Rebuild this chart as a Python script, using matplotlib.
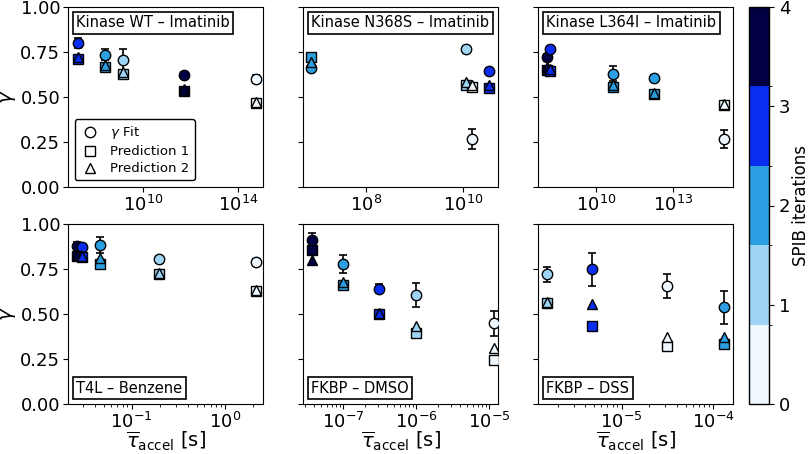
import matplotlib
matplotlib.use("Agg")
import matplotlib.pyplot as plt
from matplotlib.colors import ListedColormap, BoundaryNorm
from matplotlib.lines import Line2D
from matplotlib.offsetbox import AnchoredText
import matplotlib.ticker as mticker
import numpy as np

# colours for SPIB iterations 0..4
spib_colors = ['#eef8fe', '#9ed5f5', '#2b9fe1', '#0a2def', '#000042']

titles = ['Kinase WT – Imatinib', 'Kinase N368S – Imatinib', 'Kinase L364I – Imatinib',
          'T4L – Benzene', 'FKBP – DMSO', 'FKBP – DSS']

# Kinase WT
wt_tau = [10**7.26, 10**8.4, 10**9.15, 10**11.74, 10**14.74]
wt_fit = [0.80, 0.735, 0.705, 0.625, 0.60]
wt_err = [0.03, 0.03, 0.06, 0.015, 0.02]
wt_p1 = [0.71, 0.665, 0.63, 0.535, 0.465]
wt_p2 = [0.725, 0.675, 0.64, 0.545, 0.47]
wt_it = [3, 2, 1, 4, 0]

# Kinase N368S
n368_tau = [10**6.88, 10**10.05, 10**10.17, 10**10.53]
n368_fit = [0.66, 0.765, 0.265, 0.645]
n368_err = [0.01, 0.02, 0.055, 0.015]
n368_p1 = [0.72, 0.565, 0.555, 0.55]
n368_p2 = [0.695, 0.585, 0.565, 0.565]
n368_it = [2, 1, 0, 3]

# Kinase L364I
l364_tau = [10**8.09, 10**8.22, 10**10.67, 10**12.26, 10**14.98]
l364_fit = [0.72, 0.765, 0.63, 0.605, 0.265]
l364_err = [0.02, 0.02, 0.04, 0.015, 0.05]
l364_p1 = [0.65, 0.645, 0.555, 0.515, 0.455]
l364_p2 = [0.665, 0.655, 0.565, 0.525, 0.46]
l364_it = [4, 3, 2, 2, 0]

# T4L benzene
t4l_tau = [10**-1.59, 10**-1.536, 10**-1.34, 10**-0.704, 10**0.33]
t4l_fit = [0.88, 0.87, 0.883, 0.804, 0.79]
t4l_err = [0.02, 0.02, 0.045, 0.02, 0.015]
t4l_p1 = [0.82, 0.815, 0.78, 0.72, 0.628]
t4l_p2 = [0.83, 0.82, 0.81, 0.73, 0.635]
t4l_it = [4, 3, 2, 1, 0]

# FKBP DMSO
dmso_tau = [10**-7.42, 10**-7.0, 10**-6.51, 10**-6.0, 10**-4.93]
dmso_fit = [0.91, 0.78, 0.64, 0.605, 0.448]
dmso_err = [0.04, 0.05, 0.025, 0.065, 0.07]
dmso_p1 = [0.855, 0.66, 0.498, 0.393, 0.244]
dmso_p2 = [0.80, 0.68, 0.505, 0.433, 0.31]
dmso_it = [4, 2, 3, 1, 0]

# FKBP DSS
dss_tau = [10**-5.818, 10**-5.327, 10**-4.503, 10**-3.88]
dss_fit = [0.72, 0.748, 0.656, 0.537]
dss_err = [0.04, 0.09, 0.065, 0.09]
dss_p1 = [0.56, 0.433, 0.322, 0.333]
dss_p2 = [0.565, 0.553, 0.374, 0.37]
dss_it = [1, 3, 0, 2]

panels = [
    (wt_tau, wt_fit, wt_err, wt_p1, wt_p2, wt_it),
    (n368_tau, n368_fit, n368_err, n368_p1, n368_p2, n368_it),
    (l364_tau, l364_fit, l364_err, l364_p1, l364_p2, l364_it),
    (t4l_tau, t4l_fit, t4l_err, t4l_p1, t4l_p2, t4l_it),
    (dmso_tau, dmso_fit, dmso_err, dmso_p1, dmso_p2, dmso_it),
    (dss_tau, dss_fit, dss_err, dss_p1, dss_p2, dss_it),
]

xlims = [(10**6.84, 10**15.05), (10**6.71, 10**10.71), (10**7.75, 10**15.32),
         (10**-1.683, 10**0.407), (10**-7.55, 10**-4.88), (10**-5.913, 10**-3.785)]
top_ticks = [[1e10, 1e14], [1e8, 1e10], [1e10, 1e13]]

plt.rcParams['font.size'] = 13

W, H = 810, 454
fig = plt.figure(figsize=(W / 100, H / 100), dpi=100)

lefts = [68, 303, 538]
tops = [7, 224]
aw, ah = 195, 180

cmap = ListedColormap(spib_colors)
norm = BoundaryNorm(np.linspace(0, 4, 6), cmap.N)

ms = 7.5
axes = []
for k, (tau, fit, err, p1, p2, it) in enumerate(panels):
    r, c = divmod(k, 3)
    ax = fig.add_axes([lefts[c] / W, 1 - (tops[r] + ah) / H, aw / W, ah / H])
    axes.append(ax)
    for i in range(len(tau)):
        col = spib_colors[it[i]]
        ax.errorbar(tau[i], fit[i], yerr=err[i], fmt='o', color='k', mfc=col, mec='k',
                    ms=ms, capsize=3, elinewidth=1.2, capthick=1.2, zorder=3)
        ax.plot(tau[i], p1[i], 's', mfc=col, mec='k', ms=ms, zorder=4)
        ax.plot(tau[i], p2[i], '^', mfc=col, mec='k', ms=ms, zorder=5)
    ax.set_xscale('log')
    ax.set_xlim(*xlims[k])
    ax.set_ylim(0, 1)
    ax.set_yticks([0, 0.25, 0.5, 0.75, 1.0])
    ax.tick_params(pad=2)
    if r == 0:
        ax.set_xticks(top_ticks[c])
        ax.xaxis.set_minor_locator(mticker.NullLocator())
        loc = 'upper left'
    else:
        ax.set_xlabel(r'$\overline{\tau}_{\rm accel}$ [s]', fontsize=14, labelpad=-1)
        loc = 'lower left'
    if c == 0:
        ax.set_ylabel(r'$\gamma$', fontsize=14, labelpad=2)
    else:
        ax.set_yticklabels([])
    at = AnchoredText(titles[k], loc=loc, prop=dict(size=10.5), pad=0.12, borderpad=0.45)
    at.patch.set_boxstyle('square', pad=0.1)
    at.patch.set_edgecolor('k')
    at.patch.set_linewidth(1.2)
    ax.add_artist(at)

handles = [Line2D([], [], marker='o', ls='', mfc='white', mec='k', ms=ms, label=r'$\gamma$ Fit'),
           Line2D([], [], marker='s', ls='', mfc='white', mec='k', ms=ms, label='Prediction 1'),
           Line2D([], [], marker='^', ls='', mfc='white', mec='k', ms=ms, label='Prediction 2')]
leg = axes[0].legend(handles=handles, loc='lower left', fontsize=9.5, framealpha=1,
                     edgecolor='k', handletextpad=0.8, borderpad=0.4, labelspacing=0.3,
                     handlelength=1.5)
leg.get_frame().set_linewidth(1.0)

cax = fig.add_axes([749 / W, 1 - 404 / H, 20 / W, 397 / H])
sm = plt.cm.ScalarMappable(cmap=cmap, norm=norm)
cb = fig.colorbar(sm, cax=cax, ticks=[0, 1, 2, 3, 4])
cb.set_label('SPIB iterations', fontsize=12, labelpad=1)
cb.outline.set_linewidth(1.0)

fig.savefig('out.png', dpi=100)
